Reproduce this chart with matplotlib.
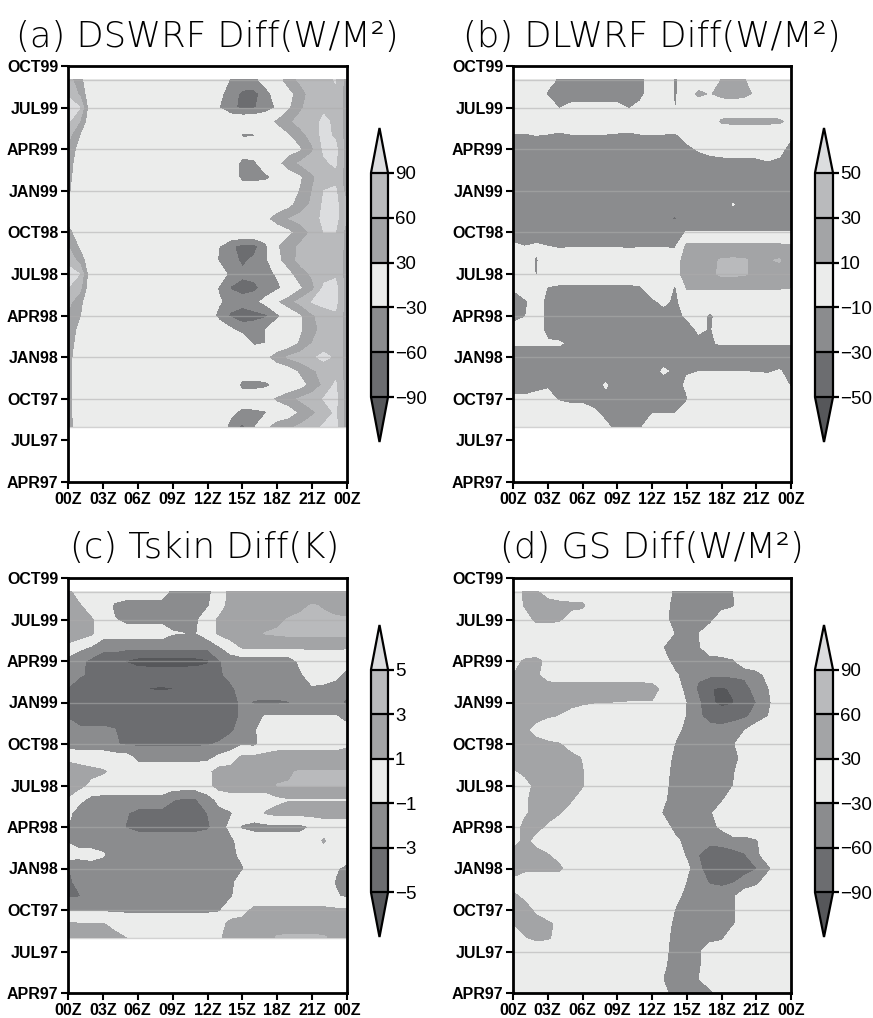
import numpy as np
import matplotlib
matplotlib.use("Agg")
import matplotlib.pyplot as plt

plt.rcParams['font.family'] = ['Liberation Sans', 'DejaVu Sans']

# hour of day on the x axis, month index (APR97 = 0) on the y axis
hours = list(range(25))
hour_labels = ['00Z', '03Z', '06Z', '09Z', '12Z', '15Z', '18Z', '21Z', '00Z']
month_ticks = list(range(0, 31, 3))
month_labels = ['APR97', 'JUL97', 'OCT97', 'JAN98', 'APR98', 'JUL98',
                'OCT98', 'JAN99', 'APR99', 'JUL99', 'OCT99']

# rows run from SEP99 (top) downwards
months_short = list(range(29, 3, -1))   # SEP99 .. AUG97
months_long = list(range(29, -1, -1))   # SEP99 .. APR97

flux_levels = [-90, -60, -30, 30, 60, 90]
dlwrf_levels = [-50, -30, -10, 10, 30, 50]
tskin_levels = [-5, -3, -1, 1, 3, 5]

# below lowest level ... above highest level
grey_shades = ['#56575a', '#6c6d70', '#8b8c8e', '#ebeceb',
               '#a3a4a6', '#b9babc', '#dcdddf']

# (a) DSWRF difference, W/m2
dswrf_rows = [
    [75, 40, 0, 0, 0, 0, 0, 0, 0, 0, 0, 0, 0, 0, -35, -45, -40, -15, 10, 50, 65, 75, 80, 92, 45],
    [85, 55, 0, 0, 0, 0, 0, 0, 0, 0, 0, 0, 0, -20, -50, -65, -70, -45, -10, 15, 50, 70, 80, 85, 45],
    [105, 92, 0, 0, 0, 0, 0, 0, 0, 0, 0, 0, 0, -30, -55, -65, -62, -50, -25, 25, 55, 75, 85, 85, 45],
    [95, 60, 0, 0, 0, 0, 0, 0, 0, 0, 0, 0, 0, 0, 0, 0, 0, 10, 35, 55, 70, 80, 95, 85, 45],
    [70, 30, 0, 0, 0, 0, 0, 0, 0, 0, 0, 0, 0, 0, 0, -35, -33, 0, 10, 25, 50, 70, 100, 85, 45],
    [55, 15, 0, 0, 0, 0, 0, 0, 0, 0, 0, 0, 0, 0, 0, 0, 0, 0, 5, 15, 25, 55, 95, 100, 45],
    [45, 10, 0, 0, 0, 0, 0, 0, 0, 0, 0, 0, 0, 0, 0, -45, -40, 0, 20, 45, 65, 75, 85, 95, 45],
    [40, 8, 0, 0, 0, 0, 0, 0, 0, 0, 0, 0, 0, 0, 0, -45, -45, -40, -20, 10, 25, 55, 75, 80, 45],
    [35, 5, 0, 0, 0, 0, 0, 0, 0, 0, 0, 0, 0, 0, 0, 0, 0, 0, 5, 10, 32, 60, 90, 95, 45],
    [25, 0, 0, 0, 0, 0, 0, 0, 0, 0, 0, 0, 0, 0, 0, 0, 0, 0, 5, 20, 45, 65, 95, 100, 60],
    [20, 0, 0, 0, 0, 0, 0, 0, 0, 0, 0, 0, 0, 0, 0, 0, 0, 20, 45, 60, 70, 80, 95, 100, 60],
    [40, 10, 0, 0, 0, 0, 0, 0, 0, 0, 0, 0, 0, 0, 0, 0, 0, 0, 5, 20, 45, 65, 90, 90, 45],
    [60, 25, 0, 0, 0, 0, 0, 0, 0, 0, 0, 0, 0, -30, -55, -70, -70, -40, 25, 50, 65, 80, 85, 90, 45],
    [80, 50, 0, 0, 0, 0, 0, 0, 0, 0, 0, 0, 0, -35, -50, -65, -55, -40, 20, 45, 70, 80, 85, 85, 45],
    [105, 90, 0, 0, 0, 0, 0, 0, 0, 0, 0, 0, 0, 0, -45, -55, -50, -45, -25, 20, 45, 65, 80, 85, 45],
    [90, 70, 0, 0, 0, 0, 0, 0, 0, 0, 0, 0, 0, -35, -62, -70, -68, -50, -40, -10, 25, 50, 95, 100, 45],
    [70, 40, 0, 0, 0, 0, 0, 0, 0, 0, 0, 0, 0, -25, -45, -50, -40, -20, 25, 50, 70, 92, 100, 100, 45],
    [55, 32, 0, 0, 0, 0, 0, 0, 0, 0, 0, 0, 0, -45, -65, -75, -70, -65, -40, 0, 25, 55, 75, 85, 45],
    [50, 20, 0, 0, 0, 0, 0, 0, 0, 0, 0, 0, 0, 0, -25, -45, -45, -30, 0, 10, 25, 50, 70, 80, 45],
    [45, 15, 0, 0, 0, 0, 0, 0, 0, 0, 0, 0, 0, 0, 0, 0, -35, -30, 0, 10, 35, 60, 75, 85, 45],
    [40, 10, 0, 0, 0, 0, 0, 0, 0, 0, 0, 0, 0, 0, 0, 0, 0, 20, 45, 65, 75, 85, 98, 85, 45],
    [40, 5, 0, 0, 0, 0, 0, 0, 0, 0, 0, 0, 0, 0, 0, 0, 0, 0, 5, 10, 35, 55, 70, 80, 45],
    [40, 5, 0, 0, 0, 0, 0, 0, 0, 0, 0, 0, 0, 0, 0, -45, -45, -40, -20, 5, 15, 40, 65, 95, 45],
    [40, 5, 0, 0, 0, 0, 0, 0, 0, 0, 0, 0, 0, 0, 0, 0, 0, 10, 35, 50, 65, 75, 92, 100, 45],
    [40, 5, 0, 0, 0, 0, 0, 0, 0, 0, 0, 0, 0, 0, -20, -45, -40, -35, 0, 10, 35, 55, 70, 95, 45],
    [45, 10, 0, 0, 0, 0, 0, 0, 0, 0, 0, 0, 0, 0, -45, -65, -35, 20, 45, 55, 65, 75, 95, 100, 45],
]

# (b) DLWRF difference, W/m2
dlwrf_rows = [
    [0, 0, 0, -5, -12, -20, -20, -20, -20, -20, -20, -15, 0, 0, -12, 0, 0, 0, 10.5, 11, 10.5, 0, 0, 0, 0],
    [0, 0, 0, -12, -20, -20, -20, -20, -20, -20, -20, -15, 0, 0, -12, 0, 13, 9, 14, 16, 13, 8, 0, 0, 0],
    [0, 0, 0, 0, -11, -5, -5, -5, -5, -5, -11, -5, 0, 0, -10.5, 0, 0, 0, 0, 0, 0, 0, 0, 0, 0],
    [0, 0, 0, 0, 0, 0, 0, 0, 0, 0, 0, 0, 0, 0, 0, 0, 0, 0, 12, 13, 13, 13, 13, 12, 6],
    [-12, -12, -10, -11, -13, -11, -11, -11, -11, -12, -13, -11, -11, -11, -12, -6, -4, -2, -2, -2, -2, -2, -2, -2, -8],
    [-20, -20, -20, -20, -20, -20, -20, -20, -20, -20, -20, -20, -20, -20, -20, -13, -9, -7, -5, -5, -5, -5, -5, -6, -15],
    [-20, -20, -20, -20, -20, -20, -20, -20, -20, -20, -20, -20, -20, -20, -20, -18, -16, -14, -14, -13, -13, -13, -11, -13, -20],
    [-20, -20, -20, -20, -20, -20, -20, -20, -20, -20, -20, -20, -20, -20, -20, -20, -20, -20, -20, -20, -20, -20, -20, -20, -20],
    [-20, -20, -20, -20, -20, -20, -20, -20, -20, -20, -20, -20, -20, -20, -20, -20, -20, -20, -20, -20, -20, -20, -20, -20, -20],
    [-20, -20, -20, -20, -20, -20, -20, -20, -20, -20, -20, -20, -20, -20, -20, -20, -20, -20, -20, -9, -20, -20, -20, -20, -20],
    [-20, -20, -20, -20, -20, -20, -20, -20, -20, -20, -20, -20, -20, -25, -32, -20, -20, -20, -20, -20, -20, -20, -20, -20, -20],
    [-18, -18, -18, -18, -20, -20, -20, -20, -20, -20, -20, -20, -20, -20, -16, -9, -9, -9, -9, -9, -9, -9, -9, -9, -9],
    [-7, -10, -8, -10, -12, -11, -11, -11, -11, -11, -12, -11, -11, -11, -12, 14, 15, 15, 15, 15, 15, 15, 15, 14, 12],
    [-11, 0, -12, 0, 0, 0, 0, 0, 0, 0, 0, 0, 0, 0, 0, 20, 22, 25, 32, 33, 32, 25, 28, 32, 15],
    [-5, 0, -11, 0, 0, 0, 0, 0, 0, 0, 0, 0, 0, 0, 0, 22, 25, 25, 34, 34, 32, 25, 22, 20, 18],
    [-9, 0, 0, -11, -13, -13, -13, -13, -13, -13, -13, -12, 0, 0, -12, 11, 11, 11, 11, 11, 11, 11, 11, 11, 10],
    [-15, -13, -2, -15, -20, -20, -20, -20, -20, -20, -20, -20, -14, -6, -14, 0, 0, 0, 0, 0, 0, 0, 0, 0, 0],
    [-15, -11, -2, -15, -20, -20, -20, -20, -20, -20, -20, -20, -20, -18, -14, -8, -5, -12, -5, 0, 0, 0, 0, 0, -11],
    [-5, -3, -2, -15, -20, -20, -20, -20, -20, -20, -20, -20, -20, -20, -20, -16, -8, -11, -5, 0, 0, 0, 0, 0, 0],
    [-8, -8, -8, -8, -8, -14, -20, -20, -20, -20, -20, -20, -20, -20, -20, -20, -14, -11, -9, -9, -9, -9, -9, -9, -9],
    [-20, -20, -20, -20, -20, -20, -20, -20, -20, -20, -20, -20, -20, -20, -20, -20, -20, -20, -20, -20, -20, -20, -20, -20, -20],
    [-20, -20, -20, -20, -20, -20, -20, -20, -20, -20, -20, -20, -20, -7, -14, -11, -10.5, -10.5, -10.5, -10.5, -10.5, -11, -12, -9, -15],
    [-15, -15, -14, -12, -11, -20, -20, -20, -8, -20, -20, -20, -20, -20, -15, -8, 0, 0, 0, 0, 0, 0, 0, 0, -12],
    [-8, -8, -6, -5, -12, -15, -15, -15, -15, -15, -15, -15, -15, -15, -15, -11, 0, 0, 0, 0, 0, 0, 0, 0, 0],
    [0, 0, 0, 0, 0, 0, 0, -8, -13, -15, -15, -15, -10.5, -10.5, -10.5, -5, 0, 0, 0, 0, 0, 0, 0, 0, 0],
    [0, 0, 0, 0, 0, 0, 0, 0, -8, -13, -13, -11, -5, 0, 0, 0, 0, 0, 0, 0, 0, 0, 0, 0, 0],
]

# (c) skin temperature difference, K
tskin_rows = [
    [1.5, 0, 0, 0, 0, 0, 0, 0, 0, -1.5, -1.5, -1.5, -1.5, 0, 1.5, 1.5, 1.5, 1.5, 1.5, 1.5, 1.5, 1.5, 1.5, 1.5, 1.5],
    [1.5, 1.2, 0, 0, -1.3, -1.8, -1.8, -1.8, -1.8, -1.8, -1.8, -1.8, -1.2, 0, 1.8, 1.8, 1.8, 1.8, 1.8, 1.8, 2.5, 3.2, 2.8, 2.5, 2.2],
    [1.5, 1.6, 1.2, 0, -0.9, -1.5, -1.5, -1.5, -1.5, -1.5, -1.5, -1.3, 0, 1.3, 1.8, 1.8, 1.8, 1.8, 2.5, 3.2, 3.5, 3.6, 3.4, 3.2, 3.2],
    [3.2, 2.0, 1.3, 0, 0, 0, 0, 0, 0, -0.9, -1.0, -1.1, 0, 1.3, 2, 2, 2.5, 3.1, 3.3, 3.5, 3.5, 3.5, 3.5, 3.5, 3.5],
    [0, -0.5, -1.2, -2.5, -2.5, -2.5, -2.5, -2.5, -2.5, -2.5, -2.5, -2.5, -2.5, -1.2, 0, 1.2, 1.2, 1.2, 1.2, 1.2, 1.2, 1.2, 1.2, 1.2, 1.2],
    [-1.5, -2.5, -3.5, -4, -4, -5.1, -5.7, -5.8, -5.8, -5.8, -5.8, -5.7, -5.3, -3.2, -2, -2, -2, -2, -2, -2, -0.5, 0, 0, 0, -0.5],
    [-2, -2.8, -3.3, -4, -4, -4, -4, -4, -4, -4, -4, -4, -4, -3.4, -2.3, -2, -2, -2, -2, -2, -1.3, 0, 0, -0.5, -1.5],
    [-3.1, -4, -4, -4, -4, -4, -4, -5.05, -5.2, -5.05, -4, -4, -4, -4, -3.5, -2, -2, -2, -2, -2, -1.5, -1.3, -1.5, -1.8, -2],
    [-3.2, -4, -4, -4, -4, -4, -4, -4, -4, -4, -4, -4, -4, -4, -4, -2.5, -3.2, -3.3, -3.3, -3.1, -2.5, -2.2, -2.2, -2.2, -3.5],
    [-3.1, -4, -4, -4, -4, -4, -4, -4, -4, -4, -4, -4, -4, -4, -4, -2.5, -1.5, -0.9, -0.9, -0.9, -0.9, -0.9, -0.9, -0.9, -1.5],
    [-2.5, -2.6, -2.6, -2.6, -2.9, -4, -4, -4, -4, -4, -4, -4, -4, -4, -3.4, -2, -1.3, 0, 0, 0, 0, 0, 0, 0, -0.5],
    [-1.5, -2, -2, -2, -2.8, -3.3, -3.3, -3.3, -3.3, -3.3, -3.3, -3.3, -3.2, -2.8, -2, -1.2, -1.5, 0, 0.5, 0.5, 0.5, 0.5, 0.5, 0.5, 0.8],
    [0, 0, 0, 0, 0, 0, -1.5, -1.5, -1.5, -1.5, -1.5, -1.5, -1.5, -0.5, 0, 1.5, 1.5, 1.5, 1.5, 1.5, 1.5, 1.5, 1.5, 1.5, 1.5],
    [3.2, 2, 1.5, 1.2, 0.5, 0, 0, 0, 0, 0, 0, 0, 0.5, 1.8, 1.8, 1.8, 1.8, 1.8, 2.2, 2.8, 3.2, 3.2, 3.2, 3.2, 3.2],
    [3.2, 1.5, 0.5, 0, 0, 0, 0, 0, 0, 0, 0, 0, 0.3, 1.8, 1.8, 1.8, 1.8, 1.8, 3.1, 3.1, 3.1, 3.1, 3.1, 3.1, 3.1],
    [0.5, -0.5, -1.5, -1.5, -1.5, -1.5, -1.5, -1.5, -1.5, -2.9, -3.2, -3.1, -1.8, -0.5, 0.2, 0.2, 0.2, 0.2, 0.5, 0.9, 0.9, 0.9, 0.9, 0.9, 0.9],
    [-0.5, -2, -2, -2, -2, -2.8, -3.7, -3.7, -3.7, -3.7, -3.7, -3.7, -3, -1.5, -1.2, 0, 0, 1.1, 1.6, 1.6, 1.6, 1.6, 1.6, 1.6, 1.6],
    [-1, -2, -2, -2, -2, -3.1, -3.6, -3.6, -3.6, -3.6, -3.6, -3.6, -3.3, -2, -0.5, -1.2, -1.6, -1.6, -1.6, -1.6, -1.6, -0.8, 0, 0, 0],
    [-1.2, -2, -2, -2, -2, -2, -2, -2, -2, -2, -2, -2, -2, -2, -1.5, 0, 0, 0, 0, 0, 0, 0, 1.2, 0, 0],
    [0, -0.3, -0.3, -0.8, -2, -2, -2, -2, -2, -2, -2, -2, -2, -2, -1.6, -0.5, 0, 0, 0, 0, 0, 0, 0, 0, 0],
    [-3.05, -2.6, -2, -2, -2, -2, -2, -2, -2, -2, -2, -2, -2, -2, -2, -1.2, 0, 0, 0, 0, 0, 0, 0, -0.8, -1.5],
    [-3.3, -2.6, -2, -2, -2, -2, -2, -2, -2, -2, -2, -2, -2, -2, -1.5, 0, 0, 0, 0, 0, 0, 0, 0, -1.1, -1.6],
    [-3.2, -3.1, -2, -2, -2, -2, -2, -2, -2, -2, -2, -2, -2, -2, -1.2, 0, 0, 0, 0, 0, 0, 0, 0, -0.8, -1.3],
    [-1.2, -1.3, -1.3, -1.3, -1.3, -1.3, -1.3, -1.3, -1.3, -1.3, -1.3, -1.3, -1.3, -1.2, 0, 0.5, 1.3, 1.3, 1.3, 1.3, 1.3, 1.3, 1.3, 1.3, 1.3],
    [1.3, 1.1, 1.1, 1.1, 0.5, 0, 0, 0, 0, 0, 0, 0, 0, 0.3, 1.5, 1.5, 1.5, 1.5, 2, 2, 2, 2, 2, 2, 1.8],
    [1.5, 1.5, 1.5, 1.5, 1.5, 1.0, 0, 0, 0, 0, 0, 0, 0, 0.8, 1.6, 1.6, 1.6, 2, 3.2, 3.3, 3.3, 3.3, 3.2, 2.5, 2],
]

# (d) ground heat flux difference, W/m2
gs_rows = [
    [0, 38, 36, 10, 0, 0, 0, 0, 0, 0, 0, 0, 0, -5, -40, -45, -45, -45, -45, -31, 0, 0, 0, 0, 0],
    [0, 33, 50, 50, 45, 40, 38, 0, 0, 0, 0, 0, 0, -15, -45, -45, -45, -45, -45, -35, -5, 0, 0, 0, 0],
    [0, 10, 38, 40, 35, 10, 0, 0, 0, 0, 0, 0, 0, -20, -45, -45, -45, -45, -5, 0, 0, 0, 0, 0, 0],
    [0, 0, 0, 0, 0, 0, 0, 0, 0, 0, 0, 0, 0, -5, -33, -45, -32, 0, 0, 0, 0, 0, 0, 0, 0],
    [0, 0, 0, 0, 0, 0, 0, 0, 0, 0, 0, 0, -5, -32, -45, -45, -35, -10, 0, 0, 0, 0, 0, 0, 0],
    [15, 35, 40, 20, 0, 0, 0, 0, 0, 0, 0, 0, 0, -15, -45, -45, -45, -45, -45, -35, -5, 0, 0, 0, 0],
    [30, 40, 35, 15, 10, 10, 10, 10, 10, 10, 10, 10, 5, 0, -25, -45, -55, -55, -55, -55, -55, -45, -20, 0, 0],
    [45, 45, 45, 45, 45, 45, 45, 45, 45, 45, 45, 45, 45, 20, -15, -40, -65, -88, -95, -85, -70, -50, -33, -5, 0],
    [45, 45, 44, 44, 42, 40, 35, 31, 30, 29, 28, 28, 28, 10, 0, -32, -55, -85, -97, -92, -75, -60, -40, -5, -32],
    [45, 42, 38, 33, 28, 15, 5, 0, 0, 0, 0, 0, 0, 0, 0, -35, -55, -70, -75, -70, -65, -50, -31, -5, -32],
    [45, 35, 20, 0, 0, 0, 0, 0, 0, 0, 0, 0, 0, 0, -20, -40, -50, -50, -50, -45, -31, -10, 0, 0, -10],
    [45, 45, 40, 38, 32, 15, 0, 0, 0, 0, 0, 0, 0, 0, -32, -45, -45, -45, -45, -35, -5, 0, 0, 0, 0],
    [40, 40, 40, 40, 40, 40, 28, 0, 0, 0, 0, 0, 0, -10, -40, -45, -45, -45, -45, -40, -20, 0, 0, 0, 0],
    [25, 38, 40, 40, 40, 40, 32, 0, 0, 0, 0, 0, 0, -15, -45, -45, -45, -45, -45, -35, -5, 0, 0, 0, 0],
    [0, 15, 40, 40, 40, 40, 33, 0, 0, 0, 0, 0, 0, -20, -45, -45, -45, -45, -45, -31, 0, 0, 0, 0, 0],
    [0, 25, 40, 40, 40, 35, 10, 0, 0, 0, 0, 0, 0, -25, -45, -45, -45, -45, -38, -5, 0, 0, 0, 0, 0],
    [0, 25, 40, 40, 33, 10, 0, 0, 0, 0, 0, 0, -5, -35, -45, -45, -45, -38, -5, 0, 0, 0, 0, 0, 0],
    [10, 40, 38, 25, 0, 0, 0, 0, 0, 0, 0, 0, 0, -10, -45, -45, -45, -40, -25, 0, 0, 0, 0, 0, 0],
    [15, 38, 20, 0, 0, 0, 0, 0, 0, 0, 0, 0, 0, 0, -20, -45, -50, -55, -50, -45, -45, -35, -5, 0, 0],
    [45, 45, 40, 32, 15, 0, 0, 0, 0, 0, 0, 0, 0, 0, -10, -35, -60, -72, -75, -70, -62, -40, -10, 0, 0],
    [45, 40, 40, 38, 38, 10, 0, 0, 0, 0, 0, 0, 0, 0, 0, -22, -55, -72, -78, -75, -70, -62, -40, -5, 0],
    [20, 0, 0, 0, 0, 0, 0, 0, 0, 0, 0, 0, 0, 0, 0, -33, -50, -62, -65, -62, -50, -40, -10, 0, 0],
    [35, 25, 0, 0, 0, 0, 0, 0, 0, 0, 0, 0, 0, 0, -20, -40, -48, -48, -48, -35, -10, 0, 0, 0, -31],
    [40, 40, 25, 0, 0, 0, 0, 0, 0, 0, 0, 0, 0, 0, -32, -45, -45, -45, -45, -35, -5, 0, 0, 0, 0],
    [30, 40, 40, 38, 20, 0, 0, 0, 0, 0, 0, 0, 0, -10, -40, -45, -45, -45, -45, -35, -5, 0, 0, 0, 0],
    [10, 28, 38, 35, 15, 0, 0, 0, 0, 0, 0, 0, 0, -15, -45, -45, -45, -45, -38, -5, 0, 0, 0, 0, 0],
    [0, 0, 0, 0, 0, 0, 0, 0, 0, 0, 0, 0, 0, -20, -45, -45, -38, -5, 0, 0, 0, 0, 0, 0, 0],
    [0, 0, 0, 0, 0, 0, 0, 0, 0, 0, 0, 0, 0, -25, -45, -45, -38, -5, 0, 0, 0, 0, 0, 0, 0],
    [0, 0, 0, 0, 0, 0, 0, 0, 0, 0, 0, 0, 0, -32, -45, -45, -32, 0, 0, 0, 0, 0, 0, 0, 0],
    [0, 0, 0, 0, 0, 0, 0, 0, 0, 0, 0, 0, 0, -20, -45, -45, -45, -45, -5, 0, 0, 0, 0, 0, 0],
]


def draw_panel(ax, cax, months, rows, levels, title, title_x, title_y):
    # contour rows are stored top-down, flip so y increases
    z = np.array(rows, dtype=float)[::-1]
    y = np.array(months)[::-1]
    cs = ax.contourf(hours, y, z, levels=levels, colors=grey_shades,
                     extend='both', zorder=1)

    # faint month lines over the data only
    grid_y = [m for m in month_ticks if y[0] < m <= y[-1]] + [y[0], y[-1]]
    ax.hlines(grid_y, 0, 24, colors='#adadad', alpha=0.55, lw=1.0, zorder=2)

    ax.set_xlim(0, 24)
    ax.set_ylim(0, 30)
    ax.set_xticks(range(0, 25, 3))
    ax.set_xticklabels(hour_labels)
    ax.set_yticks(month_ticks)
    ax.set_yticklabels(month_labels)
    ax.tick_params(direction='out', length=5, width=1.5, labelsize=11.5,
                   pad=2, colors='black')
    for lab in ax.get_xticklabels() + ax.get_yticklabels():
        lab.set_fontweight('bold')
    for sp in ax.spines.values():
        sp.set_linewidth(2)

    cb = plt.colorbar(cs, cax=cax, extendfrac=0.2, drawedges=True,
                      ticks=levels)
    cb.set_ticklabels([str(v).replace('-', '\u2212') for v in levels])
    cb.outline.set_linewidth(1.6)
    cb.dividers.set_linewidth(1.6)
    cb.dividers.set_color('black')
    cb.ax.tick_params(length=4, width=1.6, labelsize=13.5, pad=1)

    ax.figure.text(title_x, title_y, title, ha='center', va='center',
                   fontsize=25.5, family='DejaVu Sans', fontweight='light')


fig = plt.figure(figsize=(8.73, 10.18), dpi=100)

W, H = 873.0, 1018.0


def box(x0, y0, x1, y1):
    return [x0 / W, 1 - y1 / H, (x1 - x0) / W, (y1 - y0) / H]


ax_a = fig.add_axes(box(68, 66, 347, 482))
cax_a = fig.add_axes(box(371, 128, 388, 442))
ax_b = fig.add_axes(box(513, 66, 791, 482))
cax_b = fig.add_axes(box(815, 128, 833, 442))
ax_c = fig.add_axes(box(68, 578, 347, 993))
cax_c = fig.add_axes(box(371, 625, 388, 937))
ax_d = fig.add_axes(box(513, 578, 791, 993))
cax_d = fig.add_axes(box(815, 625, 833, 937))

draw_panel(ax_a, cax_a, months_short, dswrf_rows, flux_levels,
           '(a) DSWRF Diff(W/M\u00b2)', 207 / W, 1 - 37 / H)
draw_panel(ax_b, cax_b, months_short, dlwrf_rows, dlwrf_levels,
           '(b) DLWRF Diff(W/M\u00b2)', 652 / W, 1 - 37 / H)
draw_panel(ax_c, cax_c, months_short, tskin_rows, tskin_levels,
           '(c) Tskin Diff(K)', 205 / W, 1 - 548 / H)
draw_panel(ax_d, cax_d, months_long, gs_rows, flux_levels,
           '(d) GS Diff(W/M\u00b2)', 652 / W, 1 - 548 / H)

fig.savefig('out.png', dpi=100)
